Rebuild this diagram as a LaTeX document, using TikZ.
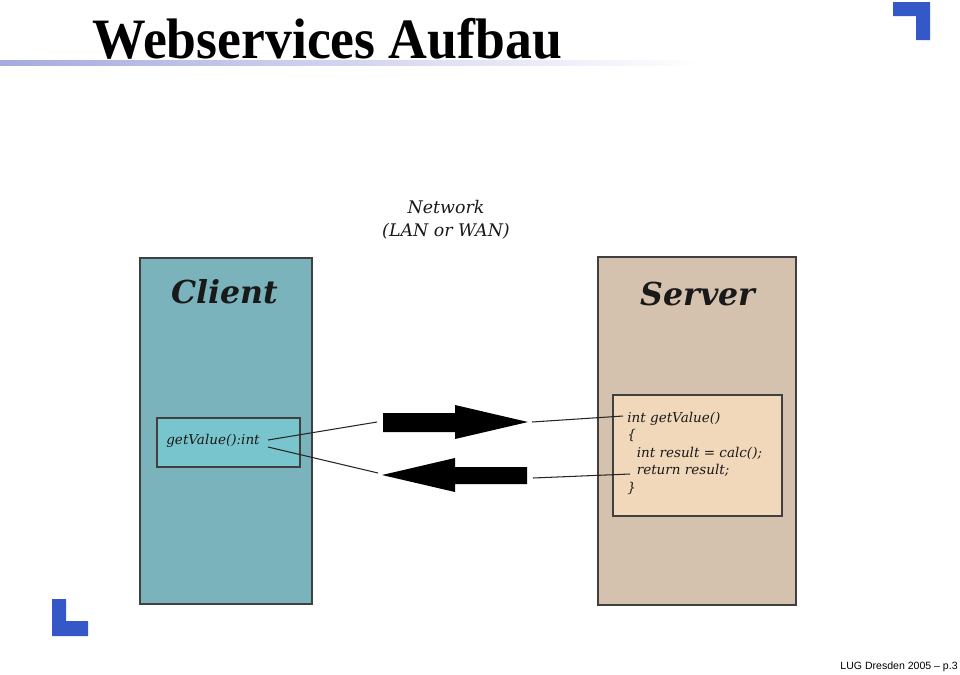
\documentclass[tikz,border=0pt]{standalone}
\usepackage{fontspec}
\setmainfont{DejaVu Serif}
\newfontfamily\titlefont{Liberation Serif}
\newfontfamily\footfont{Liberation Sans}
\definecolor{clientfill}{HTML}{7AB3BC}
\definecolor{callfill}{HTML}{78C5CD}
\definecolor{serverfill}{HTML}{D4C2AF}
\definecolor{codefill}{HTML}{F1D8BB}
\definecolor{cornerblue}{HTML}{3558C8}
\definecolor{fadeblue}{HTML}{A6AADF}
\begin{document}
\begin{tikzpicture}[x=0.02cm,y=-0.02cm,
  panel/.style={draw=black!75,thick,minimum width=#1*0.02cm},
  headtxt/.style={font=\fontsize{18}{20}\selectfont\bfseries\itshape,text=black!90},
  smalltxt/.style={font=\fontsize{7.7}{9.9}\selectfont\itshape,text=black!90},
  link/.style={black!85,semithick}]
\useasboundingbox (0,0) rectangle (960,674);
% Kopfzeile
\shade[left color=fadeblue,right color=white] (0,60) rectangle (700,65);
\node[font=\titlefont\fontsize{32.5}{34}\selectfont\bfseries,xscale=0.94,anchor=base west,inner sep=0pt] (title) at (92,58) {Webservices Aufbau};
\fill[cornerblue] (893,2) -- (930,2) -- (930,40) -- (916,40) -- (916,16) -- (893,16) -- cycle;
\fill[cornerblue] (52,599) -- (66,599) -- (66,621) -- (88,621) -- (88,636) -- (52,636) -- cycle;
\node[font=\footfont\fontsize{6}{8}\selectfont,anchor=base east,inner sep=0pt] (foot) at (958,669) {LUG Dresden 2005 – p.3};
% Client und Server
\node[panel=172,minimum height=346*0.02cm,fill=clientfill] (client) at (226,431) {};
\node[panel=198,minimum height=348*0.02cm,fill=serverfill] (server) at (697,431) {};
\node[headtxt] (clientlbl) at (225,292) {Client};
\node[headtxt] (serverlbl) at (698,294) {Server};
\node[panel=143,minimum height=49*0.02cm,fill=callfill] (call) at (228.5,442.5) {};
\node[smalltxt,inner sep=0pt] (calltxt) at (213,441) {getValue():int};
\node[panel=169,minimum height=121*0.02cm,fill=codefill] (code) at (697.5,455.5) {};
\node[smalltxt,anchor=base west,align=left,inner sep=0pt] (codetxt) at (627,492)
  {int getValue()\\ \{\\ \hspace{0.7em}int result = calc();\\ \hspace{0.7em}return result;\\ \}};
% Netzwerk
\node[smalltxt,align=center,font=\fontsize{9.9}{13}\selectfont\itshape] (net) at (446,220) {Network\\(LAN or WAN)};
\fill[black] (383,413) -- (455,413) -- (455,405) -- (528,422) -- (455,439) -- (455,432) -- (383,432) -- cycle;
\fill[black] (382,475) -- (455,458) -- (455,467) -- (527,467) -- (527,484) -- (455,484) -- (455,492) -- cycle;
\coordinate (callA) at (268,440);
\coordinate (callB) at (268,447);
\coordinate (sendL) at (377,422);
\coordinate (backL) at (378,473);
\coordinate (sendR) at (532,422);
\coordinate (backR) at (533,478);
\coordinate (codeA) at (623,416);
\coordinate (codeB) at (630,474);
\draw[link] (callA) -- (sendL);
\draw[link] (callB) -- (backL);
\draw[link] (sendR) -- (codeA);
\draw[link] (backR) -- (codeB);
\end{tikzpicture}
\end{document}
